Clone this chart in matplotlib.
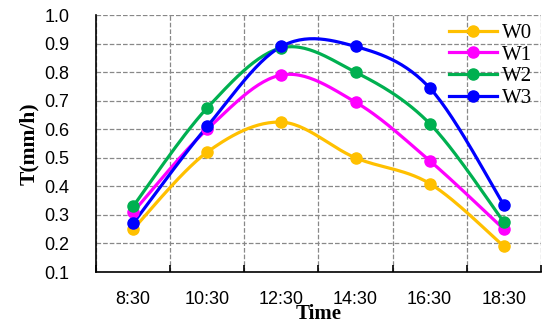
import matplotlib
matplotlib.use("Agg")
import matplotlib.pyplot as plt
from matplotlib.ticker import MultipleLocator, FixedLocator
import numpy as np

# 数据
times = ["8:30", "10:30", "12:30", "14:30", "16:30", "18:30"]
w0 = [0.25, 0.52, 0.625, 0.50, 0.41, 0.19]
w1 = [0.31, 0.60, 0.79, 0.695, 0.49, 0.25]
w2 = [0.33, 0.675, 0.885, 0.80, 0.62, 0.275]
w3 = [0.27, 0.61, 0.89, 0.89, 0.745, 0.335]
names = ["W0", "W1", "W2", "W3"]
colors = ["#FFC000", "#FF00FF", "#00B050", "#0000FF"]


# 平滑曲线（类似Excel的平滑线）
def smooth(x, y, n=30):
    x = np.asarray(x, float)
    y = np.asarray(y, float)
    px = np.concatenate([[x[0]], x, [x[-1]]])
    py = np.concatenate([[y[0]], y, [y[-1]]])
    xs, ys = [], []
    t = np.linspace(0, 1, n)
    for i in range(1, len(px) - 2):
        p0, p1, p2, p3 = (np.array([px[j], py[j]]) for j in range(i - 1, i + 3))
        c1 = p1 + (p2 - p0) / 6
        c2 = p2 - (p3 - p1) / 6
        b = ((1 - t) ** 3)[:, None] * p1 + (3 * (1 - t) ** 2 * t)[:, None] * c1 \
            + (3 * (1 - t) * t ** 2)[:, None] * c2 + (t ** 3)[:, None] * p2
        xs.append(b[:, 0])
        ys.append(b[:, 1])
    return np.concatenate(xs), np.concatenate(ys)


fig = plt.figure(figsize=(5.5, 3.35), dpi=100)
ax = fig.add_axes([0.1745, 0.188, 0.809, 0.767])

x = np.arange(len(times))
for data, name, c in zip([w0, w1, w2, w3], names, colors):
    sx, sy = smooth(x, data)
    ax.plot(sx, sy, color=c, linewidth=2.3, zorder=3)
    ax.plot(x, data, color=c, linestyle="none", marker="o", markersize=8, zorder=4)
    ax.plot([], [], color=c, linewidth=2.3, marker="o", markersize=8, label=name)

ax.set_xlim(-0.5, len(times) - 0.5)
ax.set_ylim(0.1, 1.0)
ax.yaxis.set_major_locator(MultipleLocator(0.1))
ax.yaxis.set_major_formatter(plt.FormatStrFormatter("%.1f"))
ax.xaxis.set_major_locator(FixedLocator(np.arange(-0.5, len(times), 1.0)))
ax.xaxis.set_major_formatter(plt.NullFormatter())
ax.xaxis.set_minor_locator(FixedLocator(x))
ax.set_xticks(x, times, minor=True)

ax.grid(True, which="major", color="#888888", linestyle="--", linewidth=0.9)
ax.tick_params(axis="x", which="major", direction="in", length=5, width=1.2)
ax.tick_params(axis="x", which="minor", length=0, pad=14, labelsize=13)
ax.tick_params(axis="y", which="major", length=0, pad=19, labelsize=13)
for lab in ax.get_xticklabels(minor=True) + ax.get_yticklabels():
    lab.set_fontfamily("Liberation Sans")
for s in ["top", "right"]:
    ax.spines[s].set_visible(False)
for s in ["left", "bottom"]:
    ax.spines[s].set_linewidth(1.2)

ax.set_xlabel("Time", fontfamily="Liberation Serif", fontweight="bold", fontsize=15, labelpad=-3)
ax.set_ylabel("T(mm/h)", fontfamily="Liberation Serif", fontweight="bold", fontsize=15.5, labelpad=4)

ax.legend(loc="upper right", frameon=False, prop={"family": "Liberation Serif", "size": 15},
          handlelength=2.3, labelspacing=0.1, borderaxespad=0.3, borderpad=0.1,
          handletextpad=0.25)

plt.savefig("out.png", dpi=100)
